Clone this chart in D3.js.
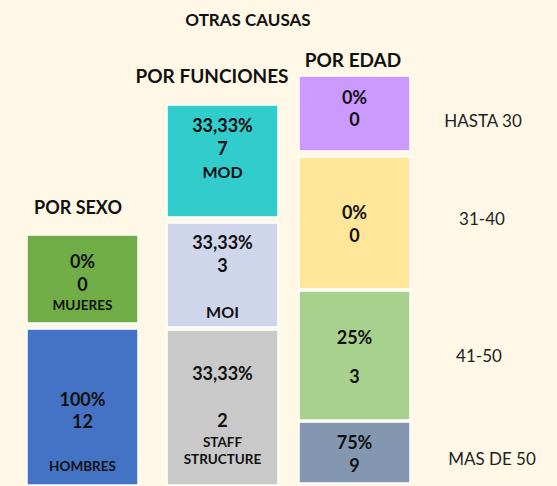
<!DOCTYPE html>
<html>
<head>
<meta charset="utf-8">
<script src="https://cdn.jsdelivr.net/npm/d3@7"></script>
<style>
  body { margin: 0; background: #fff8e6; }
  svg { display: block; font-family: Lato, "Open Sans", sans-serif; }
</style>
</head>
<body>
<svg width="557" height="486"></svg>
<script>
// data
var title = "OTRAS CAUSAS";
var groups = ["POR SEXO", "POR FUNCIONES", "POR EDAD"];

var sexCategories = ["MUJERES", "HOMBRES"];
var sexPct = ["0%", "100%"];
var sexCount = [0, 12];

var funcCategories = ["MOD", "MOI", "STAFF STRUCTURE"];
var funcPct = ["33,33%", "33,33%", "33,33%"];
var funcCount = [7, 3, 2];

var ageCategories = ["HASTA 30", "31-40", "41-50", "MAS DE 50"];
var agePct = ["0%", "0%", "25%", "75%"];
var ageCount = [0, 0, 3, 9];

// layout (the graphic is not drawn to scale, so boxes follow a fixed layout)
var width = 557, height = 486;
var svg = d3.select("svg");

var x = d3.scaleOrdinal().domain(groups).range([27, 167, 299]);
var colW = 111;
var y = d3.scaleLinear().domain([0, height]).range([0, height]);

var layout = {
  "POR SEXO": { title: [78, 207], size: 18, edges: [[235, 323], [329, 485]],
    colors: ["#70ad47", "#4472c4"] },
  "POR FUNCIONES": { title: [212, 75], size: 19, edges: [[105, 217], [223, 327], [330, 485]],
    colors: ["#33cccc", "#cfd5ea", "#c9c9c9"] },
  "POR EDAD": { title: [353, 59], size: 19, edges: [[76, 151], [157, 289], [291, 420], [422, 483]],
    colors: ["#cc99ff", "#ffe699", "#a9d18e", "#8497b0"] }
};

function rows(cats, pct, count, group) {
  return cats.map(function(c, i) {
    return { group: group, cat: c, pct: pct[i], count: count[i], i: i };
  });
}
var data = rows(sexCategories, sexPct, sexCount, "POR SEXO")
  .concat(rows(funcCategories, funcPct, funcCount, "POR FUNCIONES"))
  .concat(rows(ageCategories, agePct, ageCount, "POR EDAD"));

function boxTop(d) { return y(layout[d.group].edges[d.i][0]); }
function boxBot(d) { return y(layout[d.group].edges[d.i][1]); }
function cx(d) { return x(d.group) + colW / 2; }

// title
svg.append("text")
  .attr("x", 248).attr("y", 19)
  .attr("text-anchor", "middle").attr("dominant-baseline", "central")
  .attr("font-size", 17).attr("font-weight", "bold").attr("fill", "#111")
  .text(title);

// group headings
svg.selectAll(".gtitle")
  .data(groups)
  .enter()
  .append("text")
  .attr("x", function(g) { return layout[g].title[0]; })
  .attr("y", function(g) { return layout[g].title[1]; })
  .attr("text-anchor", "middle").attr("dominant-baseline", "central")
  .attr("font-size", function(g) { return layout[g].size; })
  .attr("font-weight", "bold").attr("fill", "#111")
  .text(function(g) { return g; });

// boxes
svg.selectAll(".box")
  .data(data)
  .enter()
  .append("rect")
  .attr("x", function(d) { return x(d.group); })
  .attr("y", boxTop)
  .attr("width", colW)
  .attr("height", function(d) { return boxBot(d) - boxTop(d); })
  .attr("fill", function(d) { return layout[d.group].colors[d.i]; })
  .attr("stroke", "#fff")
  .attr("stroke-width", 1.5);

// text inside boxes: offsets from box top
var textSpots = {
  "POR SEXO": [
    { pct: 26, num: 49, cat: [70] },
    { pct: 70, num: 92, cat: [137] }
  ],
  "POR FUNCIONES": [
    { pct: 20, num: 43, cat: [66] },
    { pct: 19, num: 42, cat: [88] },
    { pct: 43, num: 90, cat: [112, 129] }
  ],
  "POR EDAD": [
    { pct: 21, num: 43 },
    { pct: 55, num: 78 },
    { pct: 46, num: 85 },
    { pct: 20, num: 43 }
  ]
};

var labels = svg.selectAll(".lab")
  .data(data)
  .enter()
  .append("g")
  .attr("transform", function(d) { return "translate(" + cx(d) + "," + boxTop(d) + ")"; })
  .attr("text-anchor", "middle")
  .attr("font-weight", "bold")
  .attr("fill", "#111");

labels.append("text")
  .attr("y", function(d) { return textSpots[d.group][d.i].pct; })
  .attr("dominant-baseline", "central")
  .attr("font-size", 18)
  .text(function(d) { return d.pct; });

labels.append("text")
  .attr("y", function(d) { return textSpots[d.group][d.i].num; })
  .attr("dominant-baseline", "central")
  .attr("font-size", 18)
  .text(function(d) { return d.count; });

labels.filter(function(d) { return d.group !== "POR EDAD"; })
  .each(function(d) {
    var spot = textSpots[d.group][d.i].cat;
    var words = d.cat === "STAFF STRUCTURE" ? ["STAFF", "STRUCTURE"] : [d.cat];
    var small = d.group === "POR SEXO" || words.length > 1;
    d3.select(this).selectAll(".cat")
      .data(words)
      .enter()
      .append("text")
      .attr("y", function(w, k) { return spot[k]; })
      .attr("dominant-baseline", "central")
      .attr("font-size", small ? 13.5 : 16)
      .text(function(w) { return w; });
  });

// age category labels on the right
svg.selectAll(".agelab")
  .data(data.filter(function(d) { return d.group === "POR EDAD"; }))
  .enter()
  .append("text")
  .attr("x", function(d, i) { return [483, 482, 479, 492][i]; })
  .attr("y", function(d, i) { return [120, 218, 355, 458][i]; })
  .attr("text-anchor", "middle").attr("dominant-baseline", "central")
  .attr("font-size", 17).attr("fill", "#222")
  .text(function(d) { return d.cat; });
</script>
</body>
</html>
